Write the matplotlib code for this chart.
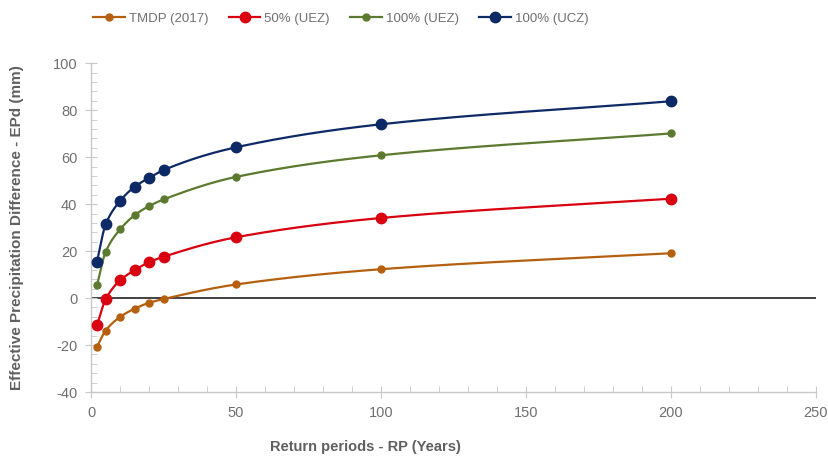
import numpy as np
import matplotlib
matplotlib.use("Agg")
import matplotlib.pyplot as plt
from matplotlib.ticker import MultipleLocator

plt.rcParams['font.family'] = ['Liberation Sans', 'DejaVu Sans']
plt.rcParams['axes.unicode_minus'] = False

return_periods = [2, 5, 10, 15, 20, 25, 50, 100, 200]
tmdp_2017 = [-20.7, -13.8, -8.0, -4.5, -2.0, -0.4, 5.8, 12.3, 19.1]
uez_50 = [-11.6, -0.5, 7.6, 11.9, 15.3, 17.6, 25.9, 34.1, 42.3]
uez_100 = [5.4, 19.7, 29.3, 35.3, 39.2, 42.0, 51.6, 60.8, 70.1]
ucz_100 = [15.5, 31.4, 41.4, 47.4, 51.2, 54.5, 64.2, 74.0, 83.8]
series_names = ["TMDP (2017)", "50% (UEZ)", "100% (UEZ)", "100% (UCZ)"]
x_ticks = [0, 50, 100, 150, 200, 250]
y_ticks = [-40, -20, 0, 20, 40, 60, 80, 100]


def pchip(x, y, xs):
    x = np.asarray(x, float); y = np.asarray(y, float)
    h = np.diff(x); d = np.diff(y) / h
    n = len(x); m = np.zeros(n)
    for k in range(1, n - 1):
        if d[k - 1] * d[k] > 0:
            w1 = 2 * h[k] + h[k - 1]; w2 = h[k] + 2 * h[k - 1]
            m[k] = (w1 + w2) / (w1 / d[k - 1] + w2 / d[k])
    m[0] = d[0]; m[-1] = d[-1]
    idx = np.clip(np.searchsorted(x, xs) - 1, 0, n - 2)
    t = (xs - x[idx]) / h[idx]
    h00 = 2 * t**3 - 3 * t**2 + 1; h10 = t**3 - 2 * t**2 + t
    h01 = -2 * t**3 + 3 * t**2; h11 = t**3 - t**2
    return h00 * y[idx] + h10 * h[idx] * m[idx] + h01 * y[idx + 1] + h11 * h[idx] * m[idx + 1]


fig = plt.figure(figsize=(8.29, 4.58), dpi=100)
ax = fig.add_axes([0.110, 0.144, 0.874, 0.718])

colors = ["#B5600F", "#D9000F", "#5B7A2F", "#0D2A66"]
msizes = [5.0, 7.5, 5.0, 7.5]
data = [tmdp_2017, uez_50, uez_100, ucz_100]

ax.axhline(0, color="#333333", lw=1.3, zorder=1)
xs = np.linspace(min(return_periods), max(return_periods), 800)
for name, ys, c, ms in zip(series_names, data, colors, msizes):
    ax.plot(xs, pchip(return_periods, ys, xs), color=c, lw=1.6, zorder=2)
    ax.plot(return_periods, ys, 'o', color=c, ms=ms, zorder=3)
    ax.plot([], [], '-o', color=c, ms=ms, lw=1.6, label=name)

ax.set_xlim(0, 250)
ax.set_ylim(-40, 100)
ax.set_xticks(x_ticks)
ax.set_yticks(y_ticks)
ax.xaxis.set_minor_locator(MultipleLocator(10))
ax.yaxis.set_minor_locator(MultipleLocator(4))
for s in ["top", "right"]:
    ax.spines[s].set_visible(False)
for s in ["left", "bottom"]:
    ax.spines[s].set_color("#c8c8c8")
    ax.spines[s].set_linewidth(1.0)
ax.tick_params(which="major", direction="inout", length=8, color="#c8c8c8",
               labelcolor="#707070", labelsize=10.5, pad=6)
ax.tick_params(which="minor", direction="in", length=4, color="#c8c8c8")

fig.text(0.0205, 0.503, "Effective Precipitation Difference - EPd (mm)", rotation=90,
         ha="center", va="center", fontsize=11, fontweight="bold", color="#606060")
fig.text(365 / 829, 1 - 447 / 458, "Return periods - RP (Years)", ha="center", va="center",
         fontsize=10.5, fontweight="bold", color="#606060")

leg = fig.legend(loc="center left", bbox_to_anchor=(0.106, 1 - 19 / 458), ncol=4, frameon=False,
                 fontsize=9.5, handlelength=2.4, columnspacing=1.55, handletextpad=0.3,
                 borderaxespad=0)
for t in leg.get_texts():
    t.set_color("#707070")

fig.savefig("out.png", dpi=100)
